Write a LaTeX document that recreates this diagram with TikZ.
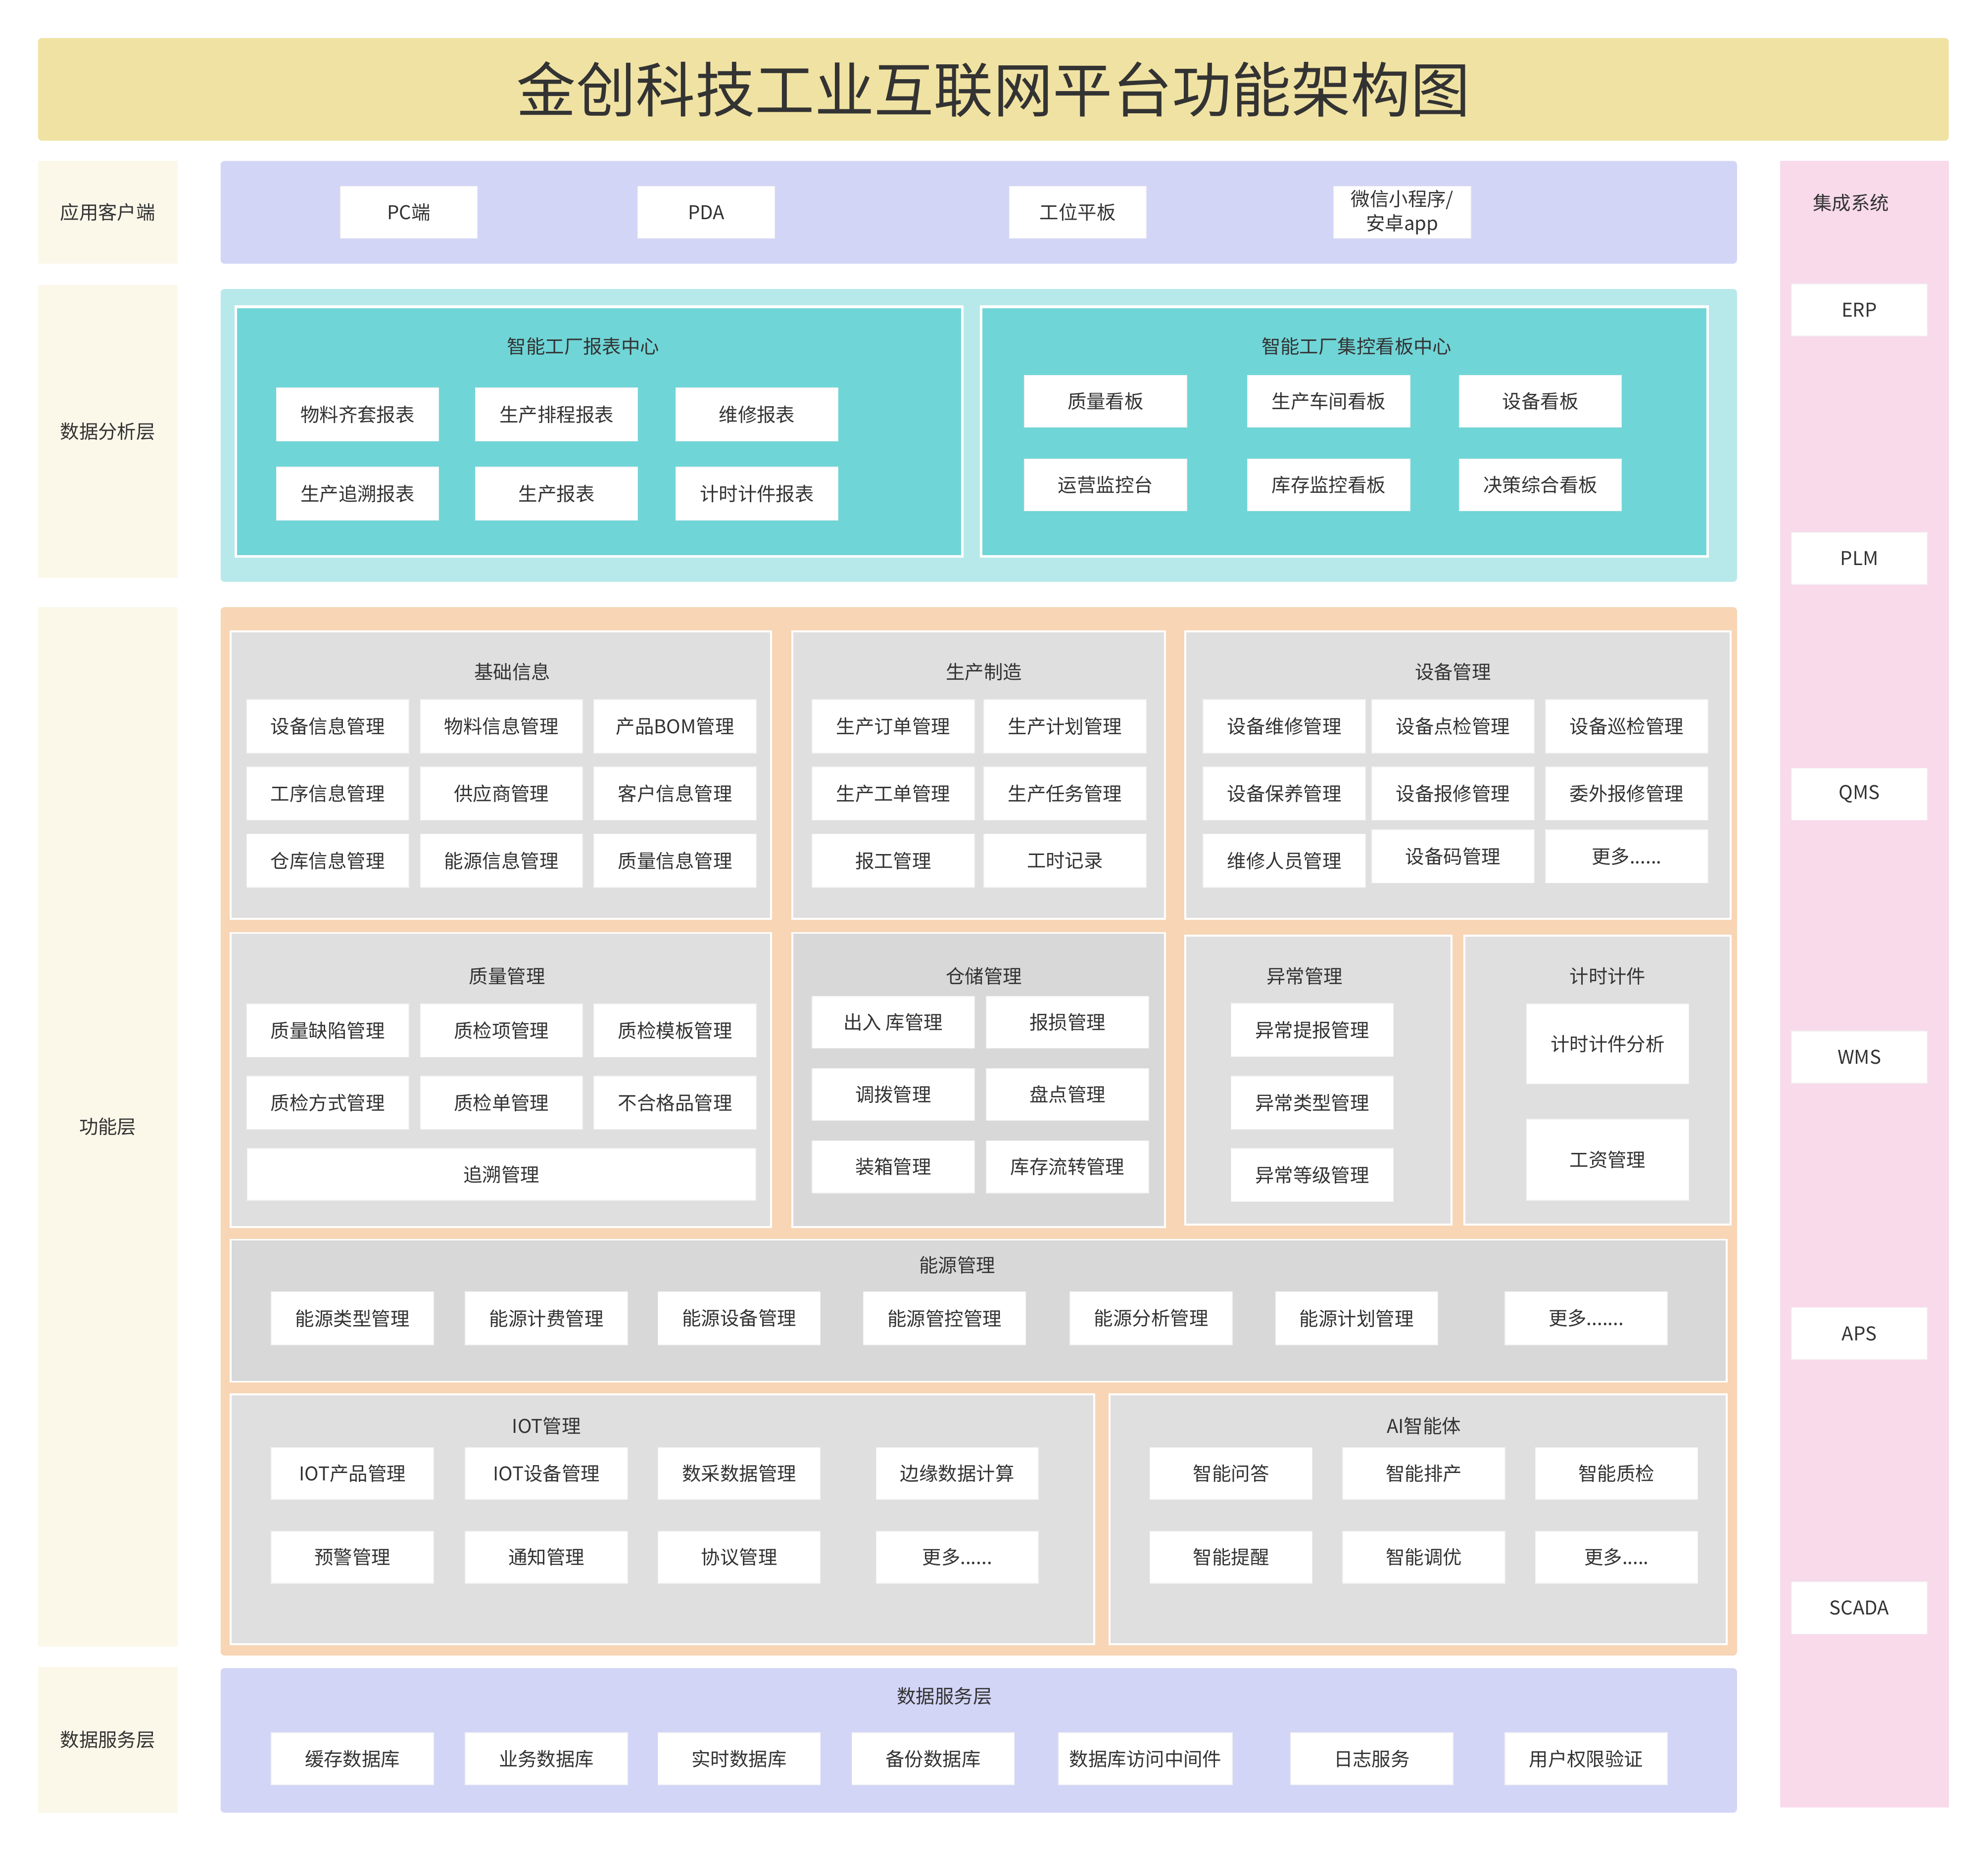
\documentclass[tikz,border=0pt]{standalone}
\usepackage{fontspec}
\setmainfont{Noto Sans CJK SC}
\usepackage{tikz}
\usetikzlibrary{positioning}
\definecolor{titlebg}{HTML}{F0E2A2}
\definecolor{sidebg}{HTML}{FBF8EA}
\definecolor{intbg}{HTML}{F8DAEB}
\definecolor{lavbg}{HTML}{D3D5F7}
\definecolor{cyanbg}{HTML}{B8E9EA}
\definecolor{tealbg}{HTML}{70D5D7}
\definecolor{peachbg}{HTML}{F7D5B5}
\definecolor{greybg}{HTML}{DFDFDF}
\definecolor{darkgreybg}{HTML}{D8D8D8}
\definecolor{txt}{HTML}{333333}

\begin{document}
\begin{tikzpicture}[
    x=1pt, y=-1pt,
    every node/.style={text=txt, font=\fontsize{15}{19}\selectfont, inner sep=0pt, align=center},
    layer/.style={rectangle, rounded corners=3pt, minimum width=1196pt},
    side/.style={rectangle, fill=sidebg, minimum width=110pt},
    panel/.style={rectangle, fill=greybg, draw=white, line width=1.5pt},
    item/.style={rectangle, fill=white, draw=black!5, line width=0.6pt, minimum width=128pt, minimum height=42pt},
    sys/.style={item, minimum width=107pt, minimum height=41pt}
]
\useasboundingbox (0,0) rectangle (1568,1461);

\node[fill=titlebg, rounded corners=3pt, minimum width=1507pt, minimum height=81pt, font=\fontsize{47}{56}\selectfont] (title) at (783.5,70.5) {金创科技工业互联网平台功能架构图};

\node[side, minimum height=81pt] (lblclient) at (85,167.5) {应用客户端};
\node[side, minimum height=231pt] (lblanalysis) at (85,340.5) {数据分析层};
\node[side, minimum height=820pt] (lblfunc) at (85,889) {功能层};
\node[side, minimum height=115pt] (lbldata) at (85,1372.5) {数据服务层};

\node[fill=intbg, minimum width=133pt, minimum height=1299pt] (integ) at (1470.5,776.5) {};
\node (integtitle) at (1460,160) {集成系统};
\node[sys] (erp) at (1466.5,244.5) {ERP};
\node[sys] (plm) at (1466.5,440.5) {PLM};
\node[sys] (qms) at (1466.5,626.5) {QMS};
\node[sys] (wms) at (1466.5,834) {WMS};
\node[sys] (aps) at (1466.5,1052) {APS};
\node[sys] (scada) at (1466.5,1268.5) {SCADA};

\node[layer, fill=lavbg, minimum height=81pt] (client) at (772,167.5) {};
\node[sys, minimum width=108pt] (pc) at (322.5,167.5) {PC端};
\node[sys, minimum width=108pt] (pda) at (557,167.5) {PDA};
\node[sys, minimum width=108pt] (pad) at (850,167.5) {工位平板};
\node[sys, minimum width=108pt] (wechat) at (1106,167.5) {微信小程序/\\安卓app};

\node[layer, fill=cyanbg, minimum height=231pt] (analysis) at (772,343.5) {};
\node[fill=tealbg, draw=white, line width=2pt, minimum width=573pt, minimum height=197pt] (report) at (472.5,340.5) {};
\node[fill=tealbg, draw=white, line width=2pt, minimum width=573pt, minimum height=197pt] (board) at (1060.5,340.5) {};
\node (reporttitle) at (460,273) {智能工厂报表中心};
\node[item] (r11) at (282,327) {物料齐套报表};
\node[item] (r12) at (439,327) {生产排程报表};
\node[item] (r13) at (597,327) {维修报表};
\node[item] (r21) at (282,389.5) {生产追溯报表};
\node[item] (r22) at (439,389.5) {生产报表};
\node[item] (r23) at (597,389.5) {计时计件报表};
\node (boardtitle) at (1070,273) {智能工厂集控看板中心};
\node[item, minimum height=41pt] (k11) at (872,316.5) {质量看板};
\node[item, minimum height=41pt] (k12) at (1048,316.5) {生产车间看板};
\node[item, minimum height=41pt] (k13) at (1215,316.5) {设备看板};
\node[item, minimum height=41pt] (k21) at (872,382.5) {运营监控台};
\node[item, minimum height=41pt] (k22) at (1048,382.5) {库存监控看板};
\node[item, minimum height=41pt] (k23) at (1215,382.5) {决策综合看板};

\node[layer, fill=peachbg, minimum height=827pt] (func) at (772,892.5) {};

\node[panel, minimum width=426pt, minimum height=227pt] (base) at (395,611.5) {};
\node (basetitle) at (404,530) {基础信息};
\node[item] (b11) at (258.5,573) {设备信息管理};
\node[item] (b12) at (395.5,573) {物料信息管理};
\node[item] (b13) at (532.5,573) {产品BOM管理};
\node[item] (b21) at (258.5,626) {工序信息管理};
\node[item] (b22) at (395.5,626) {供应商管理};
\node[item] (b23) at (532.5,626) {客户信息管理};
\node[item] (b31) at (258.5,679) {仓库信息管理};
\node[item] (b32) at (395.5,679) {能源信息管理};
\node[item] (b33) at (532.5,679) {质量信息管理};

\node[panel, minimum width=294pt, minimum height=227pt] (prod) at (772,611.5) {};
\node (prodtitle) at (776,530) {生产制造};
\node[item] (m11) at (704.5,573) {生产订单管理};
\node[item] (m12) at (840,573) {生产计划管理};
\node[item] (m21) at (704.5,626) {生产工单管理};
\node[item] (m22) at (840,626) {生产任务管理};
\node[item] (m31) at (704.5,679) {报工管理};
\node[item] (m32) at (840,679) {工时记录};

\node[panel, minimum width=430pt, minimum height=227pt] (equip) at (1150,611.5) {};
\node (equiptitle) at (1146,530) {设备管理};
\node[item] (e11) at (1013,573) {设备维修管理};
\node[item] (e12) at (1146,573) {设备点检管理};
\node[item] (e13) at (1283,573) {设备巡检管理};
\node[item] (e21) at (1013,626) {设备保养管理};
\node[item] (e22) at (1146,626) {设备报修管理};
\node[item] (e23) at (1283,626) {委外报修管理};
\node[item] (e31) at (1013,679) {维修人员管理};
\node[item] (e32) at (1146,675.5) {设备码管理};
\node[item] (e33) at (1283,675.5) {更多......};

\node[panel, minimum width=426pt, minimum height=232pt] (qual) at (395,852) {};
\node (qualtitle) at (400,770) {质量管理};
\node[item] (q11) at (258.5,813) {质量缺陷管理};
\node[item] (q12) at (395.5,813) {质检项管理};
\node[item] (q13) at (532.5,813) {质检模板管理};
\node[item] (q21) at (258.5,870) {质检方式管理};
\node[item] (q22) at (395.5,870) {质检单管理};
\node[item] (q23) at (532.5,870) {不合格品管理};
\node[item, minimum width=401pt, minimum height=41pt] (q3) at (395.5,926.5) {追溯管理};

\node[panel, fill=darkgreybg, minimum width=294pt, minimum height=232pt] (store) at (772,852) {};
\node (storetitle) at (776,770) {仓储管理};
\node[item, minimum height=41pt] (s11) at (704.5,806.5) {出入 库管理};
\node[item, minimum height=41pt] (s12) at (842,806.5) {报损管理};
\node[item, minimum height=41pt] (s21) at (704.5,863.5) {调拨管理};
\node[item, minimum height=41pt] (s22) at (842,863.5) {盘点管理};
\node[item, minimum height=41pt] (s31) at (704.5,920.5) {装箱管理};
\node[item, minimum height=41pt] (s32) at (842,920.5) {库存流转管理};

\node[panel, minimum width=210pt, minimum height=228pt] (exc) at (1040,852) {};
\node (exctitle) at (1029,770) {异常管理};
\node[item] (x1) at (1035,812.5) {异常提报管理};
\node[item] (x2) at (1035,870) {异常类型管理};
\node[item] (x3) at (1035,927) {异常等级管理};

\node[panel, minimum width=210pt, minimum height=228pt] (piece) at (1260,852) {};
\node (piecetitle) at (1268,770) {计时计件};
\node[item, minimum height=63pt] (w1) at (1268,823.5) {计时计件分析};
\node[item, minimum height=64pt] (w2) at (1268,915) {工资管理};

\node[panel, fill=darkgreybg, minimum width=1180pt, minimum height=112pt] (energy) at (772,1034) {};
\node (energytitle) at (755,998) {能源管理};
\node[item] (en1) at (278,1040) {能源类型管理};
\node[item] (en2) at (431,1040) {能源计费管理};
\node[item] (en3) at (583,1040) {能源设备管理};
\node[item] (en4) at (745,1040) {能源管控管理};
\node[item] (en5) at (908,1040) {能源分析管理};
\node[item] (en6) at (1070,1040) {能源计划管理};
\node[item] (en7) at (1251,1040) {更多.......};

\node[panel, minimum width=681pt, minimum height=197pt] (iot) at (522.5,1198.5) {};
\node (iottitle) at (431,1125) {IOT管理};
\node[item, minimum height=41pt] (i11) at (278,1162.5) {IOT产品管理};
\node[item, minimum height=41pt] (i12) at (431,1162.5) {IOT设备管理};
\node[item, minimum height=41pt] (i13) at (583,1162.5) {数采数据管理};
\node[item, minimum height=41pt] (i14) at (755,1162.5) {边缘数据计算};
\node[item, minimum height=41pt] (i21) at (278,1228.5) {预警管理};
\node[item, minimum height=41pt] (i22) at (431,1228.5) {通知管理};
\node[item, minimum height=41pt] (i23) at (583,1228.5) {协议管理};
\node[item, minimum height=41pt] (i24) at (755,1228.5) {更多......};

\node[panel, minimum width=487pt, minimum height=197pt] (ai) at (1118.5,1198.5) {};
\node (aititle) at (1123,1125) {AI智能体};
\node[item, minimum height=41pt] (a11) at (971,1162.5) {智能问答};
\node[item, minimum height=41pt] (a12) at (1123,1162.5) {智能排产};
\node[item, minimum height=41pt] (a13) at (1275,1162.5) {智能质检};
\node[item, minimum height=41pt] (a21) at (971,1228.5) {智能提醒};
\node[item, minimum height=41pt] (a22) at (1123,1228.5) {智能调优};
\node[item, minimum height=41pt] (a23) at (1275,1228.5) {更多.....};

\node[layer, fill=lavbg, minimum height=114pt] (dataserv) at (772,1373) {};
\node (dataservtitle) at (745,1338) {数据服务层};
\node[item, minimum height=41pt] (d1) at (278,1387.5) {缓存数据库};
\node[item, minimum height=41pt] (d2) at (431,1387.5) {业务数据库};
\node[item, minimum height=41pt] (d3) at (583,1387.5) {实时数据库};
\node[item, minimum height=41pt] (d4) at (736,1387.5) {备份数据库};
\node[item, minimum width=137pt, minimum height=41pt] (d5) at (903.5,1387.5) {数据库访问中间件};
\node[item, minimum height=41pt] (d6) at (1082,1387.5) {日志服务};
\node[item, minimum height=41pt] (d7) at (1251,1387.5) {用户权限验证};

\end{tikzpicture}
\end{document}
